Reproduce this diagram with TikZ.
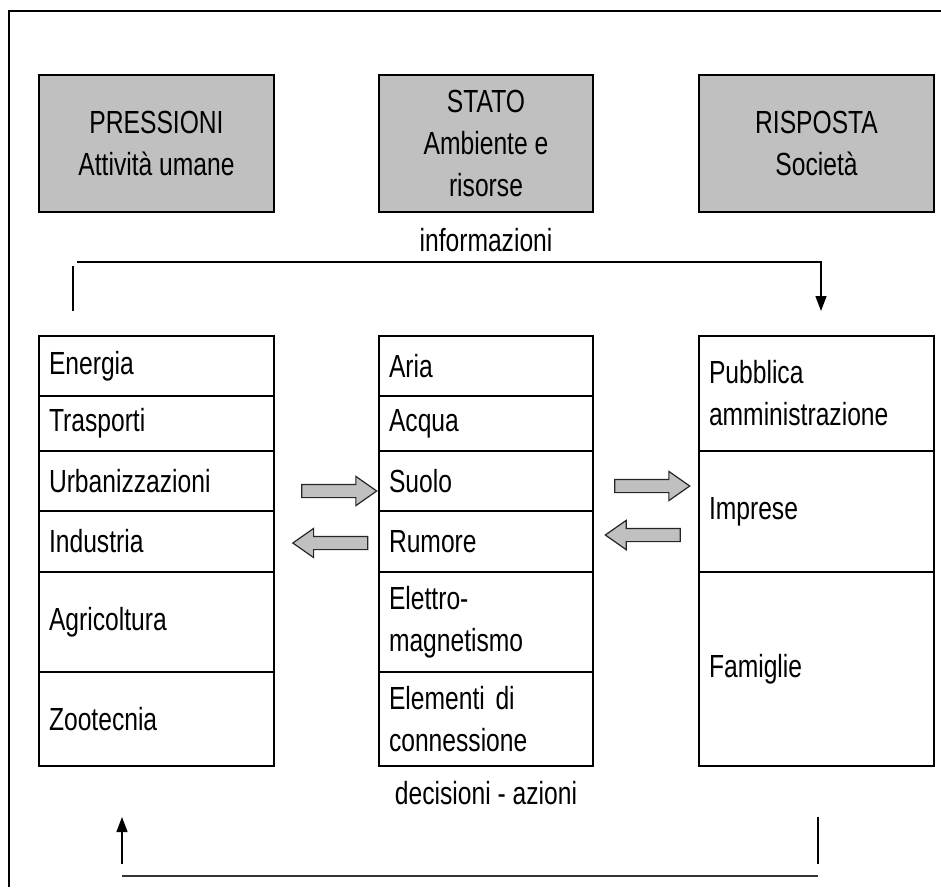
\documentclass[tikz,border=0pt]{standalone}
\usepackage{fontspec}
\setmainfont{Liberation Sans}[FakeStretch=0.77]
\usetikzlibrary{shapes.arrows,arrows.meta}
\definecolor{boxgray}{RGB}{192,192,192}
\begin{document}
\begin{tikzpicture}[x=1pt,y=-1pt,
  font=\fontsize{32}{42}\selectfont,
  topbox/.style={draw,line width=2.4pt,fill=boxgray,minimum width=235pt,minimum height=137pt,align=center,inner sep=0pt},
  cell/.style n args={2}{draw,line width=2.4pt,inner xsep=10pt,inner ysep=0pt,align=left,text width=#1pt-20pt,minimum height=#2pt},
  conn/.style={line width=1.4pt},
  blockarrow/.style={shape=single arrow,draw=black!85,line width=1.2pt,fill=boxgray,minimum height=75pt,inner xsep=0pt,inner ysep=6pt,text height=0pt,text depth=0pt,text width=0pt,single arrow head extend=8pt,single arrow tip angle=70}
]
\useasboundingbox (0,0) rectangle (941,887);
% frame
\coordinate (fb) at (9,887);
\coordinate (ftl) at (9,11);
\coordinate (ftr) at (941,11);
\draw[line width=2.4pt] (fb) -- (ftl) -- (ftr);

% top boxes
\node[topbox] (pres) at (156.5,143.5) {PRESSIONI\\Attività umane};
\node[topbox,minimum width=214pt] (stato) at (486,143.5) {STATO\\Ambiente e\\risorse};
\node[topbox] (risp) at (816.5,143.5) {RISPOSTA\\Società};

\node (inf) at (486,240) {informazioni};
\node (dec) at (486,793) {decisioni - azioni};

% left table
\node[cell={235}{60}] (l1) at (156.5,366) {Energia};
\node[cell={235}{55}] (l2) at (156.5,423.5) {Trasporti};
\node[cell={235}{60}] (l3) at (156.5,481) {Urbanizzazioni};
\node[cell={235}{61}] (l4) at (156.5,541.5) {Industria};
\node[cell={235}{100}] (l5) at (156.5,622) {Agricoltura};
\node[cell={235}{94}] (l6) at (156.5,719) {Zootecnia};

% middle table
\node[cell={214}{60}] (m1) at (486,366) {Aria};
\node[cell={214}{55}] (m2) at (486,423.5) {Acqua};
\node[cell={214}{60}] (m3) at (486,481) {Suolo};
\node[cell={214}{61}] (m4) at (486,541.5) {Rumore};
\node[cell={214}{100}] (m5) at (486,622) {Elettro-\\magnetismo};
\node[cell={214}{94}] (m6) at (486,719) {Elementi di\\connessione};

% right table
\node[cell={235}{115}] (r1) at (816.5,393.5) {Pubblica\\amministrazione};
\node[cell={235}{121}] (r2) at (816.5,511.5) {Imprese};
\node[cell={235}{194}] (r3) at (816.5,669) {Famiglie};

% block arrows
\node[blockarrow] (a1) at (334.5,491) {};
\node[blockarrow,shape border rotate=180] (a2) at (335,543) {};
\node[blockarrow] (a3) at (647.5,486) {};
\node[blockarrow,shape border rotate=180] (a4) at (647.5,535) {};

% information loop
\coordinate (i1) at (73,311);
\coordinate (i2) at (73,266);
\coordinate (i3) at (77,262);
\coordinate (i4) at (821,262);
\coordinate (i5) at (821,311);
\draw[conn] (i1) -- (i2);
\draw[conn,-{Triangle[width=11pt,length=15pt]}] (i3) -- (i4) -- (i5);

% decision loop
\coordinate (d1) at (818,817);
\coordinate (d2) at (818,864);
\coordinate (d3) at (818,876);
\coordinate (d4) at (122,876);
\coordinate (d5) at (122,864);
\coordinate (d6) at (122,817);
\draw[line width=2.2pt] (d1) -- (d2);
\draw[line width=2.4pt,black!80] (d3) -- (d4);
\draw[conn,-{Triangle[width=11pt,length=15pt]}] (d5) -- (d6);
\end{tikzpicture}
\end{document}
